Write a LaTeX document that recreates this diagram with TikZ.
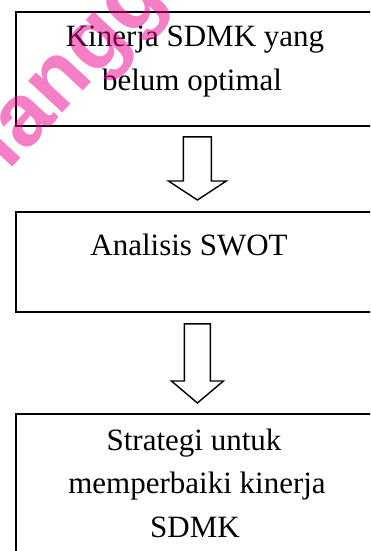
\documentclass[tikz,border=0pt]{standalone}
\usepackage{fontspec}
\setmainfont{Liberation Serif}
\newfontfamily\wmfont{Liberation Sans}
\usetikzlibrary{calc}
\begin{document}
\begin{tikzpicture}[x=1pt,y=-1pt,
  box/.style={draw, line width=1.8pt, inner sep=0pt, minimum width=363pt, anchor=north west},
  txt/.style={anchor=base, inner sep=0pt, font=\fontsize{31}{43}\selectfont},
  blockarr/.style={draw, line width=1.4pt, line join=miter, fill=white},
  wm/.style={rotate=47, anchor=base west, text=magenta, text opacity=0.5, inner sep=0pt,
    font=\wmfont\bfseries\fontsize{88}{88}\selectfont}]
\useasboundingbox (0,0) rectangle (370,551);
\clip (0,0) rectangle (370,551);
\fill[white] (0,0) rectangle (370,551);
% boxes
\node[box, minimum height=114pt] (b1) at (15,11) {};
\node[box, minimum height=100pt] (b2) at (15,211) {};
\node[box, minimum height=160pt] (b3) at (15,413) {};
% texts
\node[txt] (t1a) at (195,47) {Kinerja SDMK yang};
\node[txt] (t1b) at (192,90) {belum optimal};
\node[txt] (t2) at (189,255) {Analisis SWOT};
\node[txt] (t3a) at (194,450) {Strategi untuk};
\node[txt] (t3b) at (197,493) {memperbaiki kinerja};
\node[txt] (t3c) at (195,537) {SDMK};
% block arrows
\coordinate (s1) at ($(b1.south)+(0,10)$);
\coordinate (e1) at ($(b2.north)+(0,-11)$);
\draw[blockarr] ($(s1)+(-14,0)$) -- ($(s1)+(14,0)$) -- ($(e1)+(14,-19)$) -- ($(e1)+(29,-19)$)
  -- (e1) -- ($(e1)+(-29,-19)$) -- ($(e1)+(-14,-19)$) -- cycle;
\coordinate (s2) at ($(b2.south)+(0,11)$);
\coordinate (e2) at ($(b3.north)+(0,-10)$);
\draw[blockarr] ($(s2)+(-13,0)$) -- ($(s2)+(13,0)$) -- ($(e2)+(13,-22)$) -- ($(e2)+(26,-22)$)
  -- (e2) -- ($(e2)+(-26,-22)$) -- ($(e2)+(-13,-22)$) -- cycle;
% watermark
\node[wm] (mark) at (8.4,171.3) {langga};
\end{tikzpicture}
\end{document}
